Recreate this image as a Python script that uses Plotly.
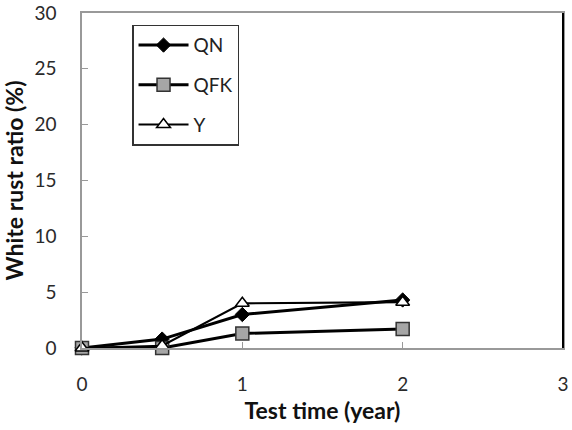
import plotly.graph_objects as go

years = [0, 0.5, 1, 2]
qn = [0, 0.8, 3.0, 4.3]
qfk = [0, 0, 1.3, 1.7]
y_vals = [0, 0.2, 4.0, 4.1]

x_ticks = [0, 1, 2, 3]
y_ticks = [0, 5, 10, 15, 20, 25, 30]

font = "Lato, 'Open Sans', sans-serif"

fig = go.Figure()
fig.add_trace(go.Scatter(x=years, y=qn, name="QN", mode="lines+markers", legendgroup="a",
                         line=dict(color="black", width=3),
                         marker=dict(symbol="diamond", size=11, color="black",
                                     line=dict(color="black", width=1))))
fig.add_trace(go.Scatter(x=years, y=qfk, name="QFK", mode="lines+markers", legendgroup="b",
                         line=dict(color="black", width=3),
                         marker=dict(symbol="square", size=13, color="#a6a6a6",
                                     line=dict(color="#333333", width=1.5))))
fig.add_trace(go.Scatter(x=years, y=y_vals, name="Y", mode="lines+markers", legendgroup="c",
                         line=dict(color="black", width=2.2),
                         marker=dict(symbol="triangle-up", size=12, color="white",
                                     line=dict(color="black", width=1.5))))

fig.update_layout(
    width=572, height=430,
    margin=dict(l=82, r=9, t=13, b=82),
    paper_bgcolor="white", plot_bgcolor="white",
    font=dict(family=font, size=19, color="#2a2a2a"),
    showlegend=True,
    legend=dict(x=0.104, y=0.965, xanchor="left", yanchor="top",
                bordercolor="#333333", borderwidth=1.5, bgcolor="white",
                font=dict(size=19, color="#222222"), tracegroupgap=12,
                itemwidth=50),
    xaxis=dict(range=[0, 3], tickvals=x_ticks, ticks="inside", ticklen=6,
               tickcolor="#999999", showgrid=False, zeroline=False,
               showline=True, linecolor="#999999", linewidth=1.5, mirror=True,
               ticklabelstandoff=18, ticklabeloverflow="allow", automargin=False,
               title=dict(text="<b>Test time (year)</b>", standoff=9,
                          font=dict(size=23, color="#111111"))),
    yaxis=dict(range=[0, 30], tickvals=y_ticks, ticks="inside", ticklen=6,
               tickcolor="#999999", showgrid=False, zeroline=False,
               showline=True, linecolor="#999999", linewidth=1.5, mirror=True,
               ticklabelstandoff=20, ticklabeloverflow="allow", automargin=False,
               title=dict(text="<b>White rust ratio (%)</b>", standoff=10,
                          font=dict(size=23, color="#111111"))),
)
fig.add_shape(type="line", xref="paper", yref="paper", x0=1, x1=1, y0=0, y1=1,
              line=dict(color="black", width=2))
fig.update_traces(cliponaxis=False)

fig.write_html("out.html")
